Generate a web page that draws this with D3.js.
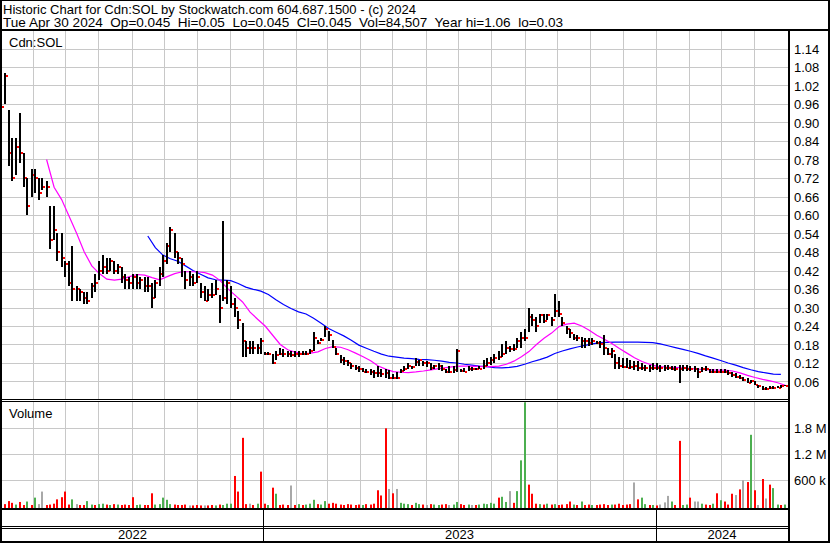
<!DOCTYPE html>
<html><head><meta charset="utf-8">
<script src="https://cdn.jsdelivr.net/npm/d3@7/dist/d3.min.js"></script>
<style>
body{margin:0;background:#fff}
svg{display:block}
text{font-family:"Liberation Sans",Arial,sans-serif;font-size:13px;fill:#000;white-space:pre}
</style></head><body>
<svg id="c" width="830" height="543"></svg>
<script>
// ---------- DATA ----------
const titleLine1 = "Historic Chart for Cdn:SOL by Stockwatch.com 604.687.1500 - (c) 2024";
const titleLine2 = "Tue Apr 30 2024  Op=0.045  Hi=0.05  Lo=0.045  Cl=0.045  Vol=84,507  Year hi=1.06  lo=0.03";
const symbolLabel = "Cdn:SOL";
const volumeLabel = "Volume";
const firstBar = "2022-05-03";   // bars: Tuesdays and Fridays up to 2024-04-30
const hi = [
1.02,1.06,.94,.85,.85,.93,.80,.72,.75,.75, .72,.72,.71,.63,.63,.54,.54,.45,.45,.50,
.37,.36,.35,.35,.38,.41,.45,.47,.46,.46, .45,.44,.43,.41,.40,.41,.41,.40,.40,.40,
.38,.39,.43,.47,.51,.56,.54,.48,.46,.42, .42,.41,.42,.38,.37,.36,.38,.39,.34,.58,
.39,.37,.33,.29,.25,.19,.19,.19,.18,.20, .155,.155,.15,.16,.17,.165,.16,.16,.16,.16,
.16,.16,.165,.22,.195,.20,.24,.225,.195,.17, .145,.14,.13,.12,.115,.11,.105,.10,.10,.097,
.11,.10,.10,.097,.085,.09,.10,.11,.12,.11, .135,.13,.125,.125,.12,.115,.12,.115,.10,.11,
.11,.167,.10,.105,.11,.108,.105,.11,.13,.135, .14,.15,.16,.18,.19,.175,.18,.20,.22,.23,
.30,.28,.27,.28,.28,.28,.27,.345,.32,.27, .24,.23,.215,.21,.205,.20,.20,.20,.19,.19,
.21,.17,.17,.15,.14,.135,.135,.13,.125,.125, .12,.115,.115,.12,.12,.115,.115,.115,.11,.11,
.115,.115,.113,.11,.11,.105,.108,.11,.10,.10, .10,.10,.10,.097,.09,.086,.08,.075,.07,.065,
.06,.05,.045,.043,.045,.045,.045,.05,.05];
const lo = [
.91,.96,.76,.71,.73,.77,.69,.60,.66,.67, .65,.68,.66,.49,.52,.45,.43,.40,.37,.32,
.32,.32,.31,.31,.33,.35,.39,.41,.41,.42, .41,.41,.38,.36,.36,.36,.36,.36,.35,.35,
.30,.33,.37,.40,.44,.48,.46,.44,.40,.36, .37,.37,.38,.33,.32,.32,.33,.34,.25,.32,
.31,.30,.27,.23,.14,.14,.15,.15,.15,.15, .146,.145,.117,.13,.145,.14,.14,.14,.14,.14,
.145,.145,.15,.16,.18,.19,.205,.19,.168,.146, .12,.115,.11,.10,.097,.09,.09,.088,.08,.071,
.075,.075,.07,.067,.067,.068,.086,.095,.10,.10, .11,.11,.11,.108,.097,.10,.097,.095,.086,.086,
.086,.09,.09,.09,.095,.095,.097,.10,.10,.11, .115,.12,.13,.14,.15,.155,.16,.17,.17,.19,
.22,.24,.22,.25,.25,.26,.24,.27,.27,.24, .215,.20,.195,.19,.17,.17,.175,.178,.18,.17,
.146,.146,.135,.10,.10,.103,.103,.10,.097,.095, .097,.095,.092,.097,.097,.092,.095,.097,.097,.095,
.054,.095,.095,.095,.09,.07,.09,.095,.088,.086, .088,.088,.086,.08,.075,.07,.068,.06,.054,.054,
.048,.04,.032,.032,.035,.035,.038,.04,.045];
const cl = [
.95,1.05,.80,.72,.82,.80,.72,.63,.73,.72, .67,.69,.69,.52,.55,.48,.46,.44,.38,.36,
.36,.35,.33,.32,.37,.38,.42,.43,.42,.45, .42,.43,.40,.39,.38,.40,.38,.39,.37,.37,
.33,.38,.41,.45,.50,.55,.48,.46,.44,.39, .40,.38,.40,.35,.32,.34,.34,.36,.30,.33,
.38,.31,.30,.26,.19,.17,.17,.17,.17,.19, .15,.15,.12,.146,.15,.15,.15,.145,.15,.15,
.15,.15,.16,.20,.185,.195,.23,.21,.173,.15, .13,.125,.12,.11,.103,.10,.092,.092,.09,.086,
.086,.085,.086,.07,.07,.072,.095,.10,.11,.108, .124,.13,.119,.119,.103,.11,.11,.10,.09,.09,
.097,.16,.095,.092,.10,.10,.10,.10,.11,.12, .13,.135,.14,.15,.168,.165,.167,.19,.20,.20,
.27,.26,.24,.275,.255,.275,.26,.29,.28,.25, .23,.216,.20,.20,.19,.19,.186,.19,.184,.18,
.17,.15,.16,.12,.11,.108,.105,.108,.11,.103, .103,.103,.103,.105,.103,.103,.103,.103,.10,.10,
.10,.103,.10,.10,.10,.092,.10,.10,.092,.092, .092,.092,.09,.086,.08,.076,.072,.065,.055,.06,
.05,.045,.035,.035,.04,.04,.04,.045,.045];
// volume in millions of shares
const vol = [
.18,.05,.12,.08,.04,.10,.03,.11,.03,.20, .05,.34,.03,.04,.06,.16,.21,.34,.04,.16,
.05,.03,.03,.12,.04,.03,.05,.06,.04,.03, .05,.04,.03,.04,.03,.21,.03,.04,.03,.03,
.30,.04,.05,.20,.15,.05,.04,.03,.03,.04, .02,.02,.03,.02,.02,.02,.03,.02,.04,.03,
.06,.06,.70,.34,1.58,.05,.06,.03,.06,.80, .06,.03,.43,.29,.03,.04,.03,.48,.03,.05,
.03,.04,.06,.15,.05,.04,.12,.06,.08,.06, .04,.03,.05,.04,.03,.04,.03,.05,.04,.06,
.37,.25,1.80,.40,.30,.40,.08,.06,.05,.03, .08,.05,.04,.03,.05,.04,.03,.04,.05,.03,
.04,.10,.05,.03,.04,.03,.03,.04,.06,.05, .08,.06,.20,.22,.10,.35,.08,.35,1.06,2.40,
.50,.29,.06,.05,.04,.06,.04,.05,.03,.04, .05,.11,.04,.03,.11,.03,.04,.03,.03,.04,
.05,.03,.04,.04,.06,.03,.04,.05,.55,.16, .20,.05,.03,.03,.02,.04,.09,.24,.11,.03,
1.51,.03,.04,.20,.11,.11,.06,.04,.03,.06, .30,.14,.11,.04,.29,.26,.39,.60,.56,1.65,
.37,.03,.63,.18,.50,.42,.04,.03,.04];
// volume bar colour: r = down day, g = up day, n = unchanged
const volDir = [
"g","r","r","r","g","r","r","g","r","g", "n","n","r","r","r","r","r","r","r","g",
"n","r","r","g","g","r","g","g","r","g", "r","g","r","r","r","r","g","g","r","r",
"r","g","g","g","g","g","r","r","r","r", "n","r","r","r","n","r","r","g","r","g",
"g","g","r","r","r","r","n","r","g","r", "r","g","r","g","r","r","r","n","r","g",
"r","g","g","g","r","g","g","r","r","r", "r","r","r","r","r","r","g","r","r","r",
"r","r","r","n","r","n","g","g","g","r", "g","g","r","n","r","g","g","r","r","n",
"g","g","r","r","g","n","r","g","g","g", "g","g","r","g","g","n","r","g","g","g",
"r","r","r","g","r","g","r","g","r","r", "r","r","g","r","g","r","r","g","r","r",
"r","r","g","r","r","r","r","r","n","r", "g","g","r","g","r","n","n","n","g","r",
"r","g","g","r","n","n","g","r","r","g", "r","g","r","r","r","n","r","n","r","g",
"r","n","r","n","r","g","g","r","g"];
const maShortStart = 12;   // magenta moving average, one value every 2 bars
const maShort = [
.78,.69,.65,.595,.54,.48,.435,.41,.392,.389, .392,.40,.407,.405,.397,.39,.40,.41,.416,.416,
.416,.413,.405,.388,.362,.34,.318,.285,.262,.24, .21,.18,.163,.155,.15,.152,.156,.167,.173,.171,
.163,.152,.14,.127,.11,.10,.092,.09,.089,.091, .094,.098,.102,.105,.108,.11,.11,.109,.108,.108,
.11,.116,.126,.14,.157,.18,.20,.217,.238,.246, .249,.24,.226,.21,.197,.183,.167,.152,.137,.125,
.116,.109,.107,.106,.105,.103,.101,.099,.098,.097, .097,.094,.088,.08,.073,.067,.062,.056,.048];
const maLongStart = 39;    // blue moving average, one value every 2 bars
const maLong = [
.532,.494,.47,.458,.45,.435,.42,.408,.396,.39, .389,.387,.378,.366,.359,.353,.342,.325,.31,.297,
.286,.279,.265,.249,.232,.22,.208,.194,.178,.168, .158,.149,.142,.139,.136,.134,.132,.131,.129,.126,
.122,.12,.116,.113,.11,.108,.105,.104,.106,.109, .116,.124,.131,.139,.151,.159,.166,.172,.177,.182,
.186,.187,.188,.188,.188,.188,.187,.186,.182,.176, .17,.164,.158,.151,.143,.136,.128,.12,.113,.105,
.098,.092,.088,.084,.083];
const priceTicks = [0.06,0.12,0.18,0.24,0.30,0.36,0.42,0.48,0.54,0.60,0.66,0.72,0.78,0.84,0.90,0.96,1.02,1.08,1.14];
const volTicks = [0.6,1.2,1.8];
const volTickLabels = ["600 k","1.2 M","1.8 M"];
const years = ["2022","2023","2024"];

// ---------- LAYOUT ----------
const svg = d3.select("#c");
const L = 2, R = 788;            // plot area horizontal extent
const pTop = 31, pBot = 399;     // price panel
const vTop = 402, vBot = 508;    // volume panel
const grid = "#c8c8c8";

const parse = d3.utcParse("%Y-%m-%d");
const d0 = parse(firstBar);
const dates = hi.map((_, i) => d3.utcDay.offset(d0, Math.floor(i / 2) * 7 + (i % 2) * 3));
const x = d3.scaleUtc().domain([parse("2023-01-01"), parse("2024-01-01")]).range([263, 656]);
const y = d3.scaleLinear().domain([0, 1.14]).range([400, 48.5]);
const yv = d3.scaleLinear().domain([0, 1.8]).range([506.3, 428.3]);

svg.append("rect").attr("width", 830).attr("height", 543).attr("fill", "#fff");

// month gridlines
const months = d3.utcMonth.range(parse("2022-06-01"), parse("2024-05-01"));
const gp = svg.append("g").attr("stroke", grid).attr("stroke-width", 1);
months.forEach(m => {
  const xm = Math.round(x(m)) + 0.5;
  gp.append("line").attr("x1", xm).attr("x2", xm).attr("y1", pTop).attr("y2", pBot);
  gp.append("line").attr("x1", xm).attr("x2", xm).attr("y1", vTop).attr("y2", vBot);
});
priceTicks.forEach(t => {
  const yy = Math.round(y(t)) + 0.5;
  gp.append("line").attr("x1", L).attr("x2", R).attr("y1", yy).attr("y2", yy);
});
volTicks.forEach(t => {
  const yy = Math.round(yv(t)) + 0.5;
  gp.append("line").attr("x1", L).attr("x2", R).attr("y1", yy).attr("y2", yy);
});

// volume bars
const vcol = {r: "#ff0000", g: "#4caf50", n: "#a8a8a8"};
svg.append("g").selectAll("rect").data(vol).join("rect")
  .attr("x", (d, i) => Math.round(x(dates[i])) - 1)
  .attr("width", 2)
  .attr("y", d => Math.min(yv(d), vBot - 1))
  .attr("height", d => vBot - Math.min(yv(d), vBot - 1))
  .attr("fill", (d, i) => vcol[volDir[i]]);

// moving averages
const lineGen = d3.line().x(d => x(d[0])).y(d => y(d[1]));
const shortPts = maShort.map((v, k) => [dates[maShortStart + 2 * k], v]);
const longPts = maLong.map((v, k) => [dates[maLongStart + 2 * k], v]);
svg.append("path").attr("d", lineGen(longPts)).attr("fill", "none").attr("stroke", "#0000ff").attr("stroke-width", 1.2);
svg.append("path").attr("d", lineGen(shortPts)).attr("fill", "none").attr("stroke", "#ff00ff").attr("stroke-width", 1.2);

// OHLC bars
const bars = svg.append("g");
hi.forEach((h, i) => {
  const bx = Math.round(x(dates[i]));
  const yh = Math.round(y(h)), yl = Math.round(y(lo[i]));
  bars.append("rect").attr("x", bx - 1).attr("width", 2).attr("y", yh).attr("height", Math.max(1, yl - yh)).attr("fill", "#000");
  bars.append("rect").attr("x", bx + 1).attr("width", 2).attr("y", Math.round(y(cl[i])) - 1).attr("height", 2).attr("fill", "#ff0000");
});

// frame lines
const frame = svg.append("g").attr("fill", "#000");
frame.append("rect").attr("x", 0).attr("y", 0).attr("width", 830).attr("height", 1);       // top
frame.append("rect").attr("x", 0).attr("y", 29).attr("width", 830).attr("height", 2);      // header bottom
frame.append("rect").attr("x", 0).attr("y", 0).attr("width", 2).attr("height", 543);       // left
frame.append("rect").attr("x", 828).attr("y", 0).attr("width", 2).attr("height", 543);     // right
frame.append("rect").attr("x", R).attr("y", 31).attr("width", 2).attr("height", 512);      // axis divider
frame.append("rect").attr("x", 0).attr("y", 399).attr("width", R).attr("height", 1);       // price bottom
frame.append("rect").attr("x", 0).attr("y", 401).attr("width", R).attr("height", 1);       // volume top
frame.append("rect").attr("x", 0).attr("y", 508).attr("width", R).attr("height", 2);       // volume bottom
frame.append("rect").attr("x", 0).attr("y", 526).attr("width", R).attr("height", 1);
frame.append("rect").attr("x", 0).attr("y", 528).attr("width", R).attr("height", 1);
frame.append("rect").attr("x", 0).attr("y", 541).attr("width", 830).attr("height", 2);     // bottom
[parse("2023-01-01"), parse("2024-01-01")].forEach(d => {
  frame.append("rect").attr("x", Math.round(x(d))).attr("y", 510).attr("width", 1).attr("height", 32);
});

// texts
svg.append("text").attr("x", 3).attr("y", 13.5).attr("textLength", 413).attr("lengthAdjust", "spacingAndGlyphs").text(titleLine1);
svg.append("text").attr("x", 3).attr("y", 27).attr("textLength", 560).attr("lengthAdjust", "spacingAndGlyphs").text(titleLine2);
svg.append("text").attr("x", 9).attr("y", 47).text(symbolLabel);
svg.append("text").attr("x", 9).attr("y", 418).text(volumeLabel);
priceTicks.forEach(t => {
  svg.append("text").attr("x", 794).attr("y", y(t) + 5).text(t.toFixed(2));
});
volTicks.forEach((t, k) => {
  svg.append("text").attr("x", 794).attr("y", yv(t) + 5).text(volTickLabels[k]);
});
const yb = [x.invert(L), parse("2023-01-01"), parse("2024-01-01"), x.invert(R)];
years.forEach((yr, k) => {
  svg.append("text").attr("x", (x(yb[k]) + x(yb[k + 1])) / 2).attr("y", 539).attr("text-anchor", "middle").text(yr);
});
</script>
</body></html>
